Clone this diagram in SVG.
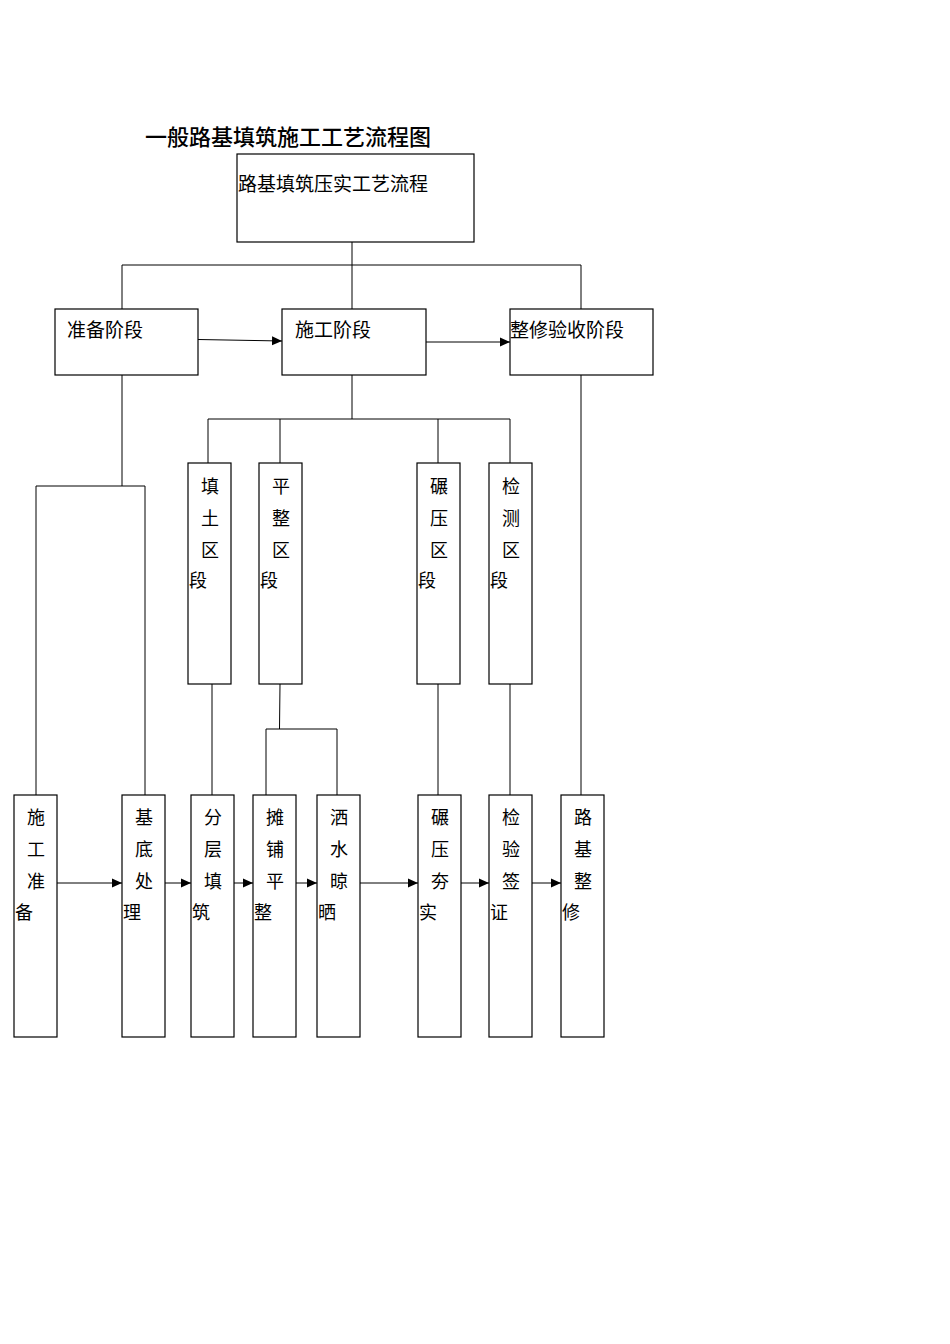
<svg xmlns="http://www.w3.org/2000/svg" width="950" height="1344" viewBox="0 0 950 1344">
<style>
.box{fill:#fff;stroke:#000;stroke-width:1.2}
.ln{fill:none;stroke:#000;stroke-width:1}
.t{font-family:"Noto Sans CJK SC","Noto Sans",sans-serif;font-size:18px;fill:#000}
.tm{font-family:"Noto Sans CJK SC","Noto Sans",sans-serif;font-size:19px;fill:#000}
.c{text-anchor:middle}
</style>
<defs>
<marker id="ah" markerUnits="userSpaceOnUse" markerWidth="11" markerHeight="10" refX="10" refY="5" orient="auto">
<path d="M0,0.5 L10,5 L0,9.5 Z" fill="#000"/>
</marker>
</defs>
<rect width="950" height="1344" fill="#fff"/>
<text id="title" x="145" y="145" font-family="'Noto Sans CJK SC',sans-serif" font-size="22" font-weight="500" fill="#000">一般路基填筑施工工艺流程图</text>

<g id="connectors">
<path class="ln" d="M352,242 V265 M122,309 V265 H581 V309 M352,265 V309"/>
<path class="ln" d="M198,339.5 L282,341" marker-end="url(#ah)"/>
<path class="ln" d="M426,342 H510" marker-end="url(#ah)"/>
<path class="ln" d="M352,375 V419 M208,463 V419 H510 V463 M280,419 V463 M438,419 V463"/>
<path class="ln" d="M122,375 V486 M36,795 V486 H145 V795"/>
<path class="ln" d="M212,684 V795"/>
<path class="ln" d="M280,684 L279.5,729 M266,795 V729 H337 V795"/>
<path class="ln" d="M438,684 V795 M510,684 V795 M581,375 V795"/>
<path class="ln" d="M57,883 H122" marker-end="url(#ah)"/>
<path class="ln" d="M165,883 H191" marker-end="url(#ah)"/>
<path class="ln" d="M234,883 H253" marker-end="url(#ah)"/>
<path class="ln" d="M296,883 H317" marker-end="url(#ah)"/>
<path class="ln" d="M360,883 H418" marker-end="url(#ah)"/>
<path class="ln" d="M461,883 H489" marker-end="url(#ah)"/>
<path class="ln" d="M532,883 H561" marker-end="url(#ah)"/>
</g>

<g id="n-top"><rect class="box" x="237" y="154" width="237" height="88"/><text class="tm" x="238" y="191">路基填筑压实工艺流程</text></g>
<g id="n-prep"><rect class="box" x="55" y="309" width="143" height="66"/><text class="tm" x="67" y="337">准备阶段</text></g>
<g id="n-const"><rect class="box" x="282" y="309" width="144" height="66"/><text class="tm" x="295" y="337">施工阶段</text></g>
<g id="n-finish"><rect class="box" x="510" y="309" width="143" height="66"/><text class="tm" x="510" y="337">整修验收阶段</text></g>

<g id="n-tiantu"><rect class="box" x="188" y="463" width="43" height="221"/>
<text class="t c" x="210" y="493">填</text><text class="t c" x="210" y="525">土</text><text class="t c" x="210" y="557">区</text><text class="t" x="189" y="587">段</text></g>
<g id="n-pingzheng"><rect class="box" x="259" y="463" width="43" height="221"/>
<text class="t c" x="281" y="493">平</text><text class="t c" x="281" y="525">整</text><text class="t c" x="281" y="557">区</text><text class="t" x="260" y="587">段</text></g>
<g id="n-nianya"><rect class="box" x="417" y="463" width="43" height="221"/>
<text class="t c" x="439" y="493">碾</text><text class="t c" x="439" y="525">压</text><text class="t c" x="439" y="557">区</text><text class="t" x="418" y="587">段</text></g>
<g id="n-jiance"><rect class="box" x="489" y="463" width="43" height="221"/>
<text class="t c" x="511" y="493">检</text><text class="t c" x="511" y="525">测</text><text class="t c" x="511" y="557">区</text><text class="t" x="490" y="587">段</text></g>

<g id="n-b1"><rect class="box" x="14" y="795" width="43" height="242"/>
<text class="t c" x="36" y="824">施</text><text class="t c" x="36" y="856">工</text><text class="t c" x="36" y="888">准</text><text class="t" x="15" y="919">备</text></g>
<g id="n-b2"><rect class="box" x="122" y="795" width="43" height="242"/>
<text class="t c" x="144" y="824">基</text><text class="t c" x="144" y="856">底</text><text class="t c" x="144" y="888">处</text><text class="t" x="123" y="919">理</text></g>
<g id="n-b3"><rect class="box" x="191" y="795" width="43" height="242"/>
<text class="t c" x="213" y="824">分</text><text class="t c" x="213" y="856">层</text><text class="t c" x="213" y="888">填</text><text class="t" x="192" y="919">筑</text></g>
<g id="n-b4"><rect class="box" x="253" y="795" width="43" height="242"/>
<text class="t c" x="275" y="824">摊</text><text class="t c" x="275" y="856">铺</text><text class="t c" x="275" y="888">平</text><text class="t" x="254" y="919">整</text></g>
<g id="n-b5"><rect class="box" x="317" y="795" width="43" height="242"/>
<text class="t c" x="339" y="824">洒</text><text class="t c" x="339" y="856">水</text><text class="t c" x="339" y="888">晾</text><text class="t" x="318" y="919">晒</text></g>
<g id="n-b6"><rect class="box" x="418" y="795" width="43" height="242"/>
<text class="t c" x="440" y="824">碾</text><text class="t c" x="440" y="856">压</text><text class="t c" x="440" y="888">夯</text><text class="t" x="419" y="919">实</text></g>
<g id="n-b7"><rect class="box" x="489" y="795" width="43" height="242"/>
<text class="t c" x="511" y="824">检</text><text class="t c" x="511" y="856">验</text><text class="t c" x="511" y="888">签</text><text class="t" x="490" y="919">证</text></g>
<g id="n-b8"><rect class="box" x="561" y="795" width="43" height="242"/>
<text class="t c" x="583" y="824">路</text><text class="t c" x="583" y="856">基</text><text class="t c" x="583" y="888">整</text><text class="t" x="562" y="919">修</text></g>
</svg>
